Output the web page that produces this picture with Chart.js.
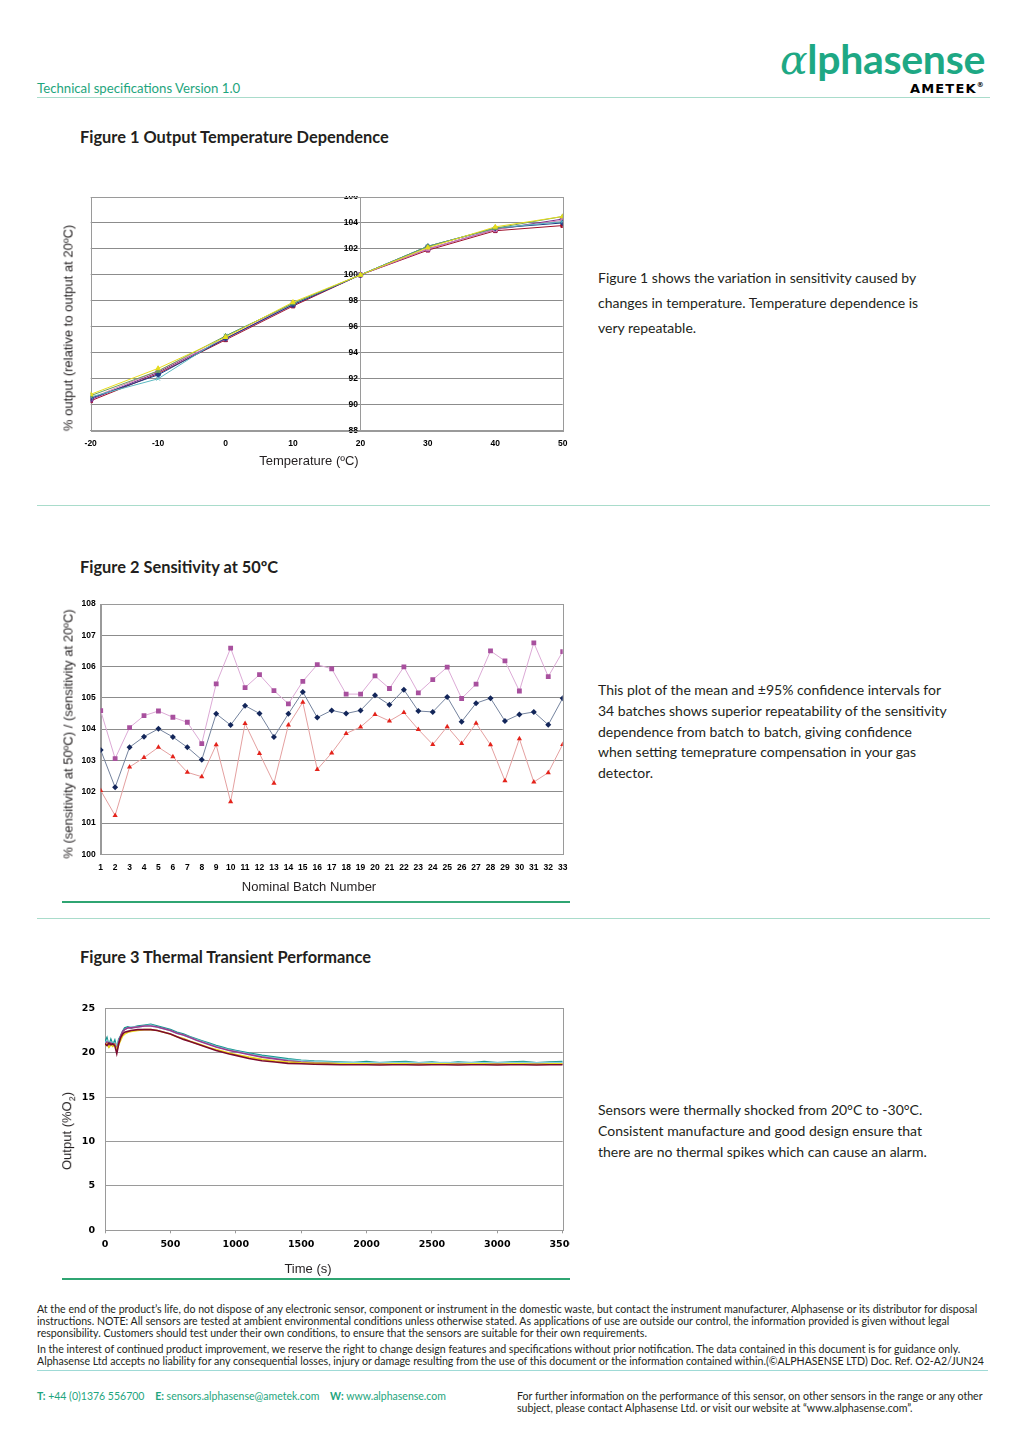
<!DOCTYPE html>
<html>
<head>
<meta charset="utf-8">
<script src="https://cdn.jsdelivr.net/npm/chart.js@4.4.1/dist/chart.umd.min.js"></script>
<style>
  html, body { margin: 0; padding: 0; background: #fff; }
  #page { position: relative; width: 1024px; height: 1448px; overflow: hidden; font-family: Lato, 'Open Sans', sans-serif; color: #231f20; }
  .abs { position: absolute; white-space: nowrap; }
  canvas { position: absolute; }
  .rule { position: absolute; height: 1px; background: #a9dccb; }
  .chartrule { position: absolute; height: 1.5px; background: #2fa572; }
  .figtitle { font-weight: 700; font-size: 16.4px; line-height: 20px; }
  .body { font-size: 14px; }
  .ytitle { position: absolute; font-family: 'Liberation Sans', Arial, sans-serif; font-size: 13px; white-space: nowrap; transform: translate(-50%, -50%) rotate(-90deg); }
  .xtitle { position: absolute; font-family: 'Liberation Sans', Arial, sans-serif; font-size: 13px; white-space: nowrap; transform: translate(-50%, -50%); }
  .foot { font-size: 10.6px; line-height: 12px; }
</style>
</head>
<body>
<div id="page">
  <!-- header -->
  <div class="abs" style="left:37px; top:80px; font-size:13.2px; color:#1ea57d;">Technical specifications Version 1.0</div>
  <div class="abs" style="right:39px; top:35px; font-size:41px; line-height:48px; font-weight:700; color:#1ea884; letter-spacing:-0.3px;"><span style="font-family:'DejaVu Serif', serif; font-style:italic; font-weight:400;">α</span>lphasense</div>
  <div class="abs" style="right:39px; top:81px; font-family:'DejaVu Sans', sans-serif; font-size:13px; font-weight:700; color:#000; letter-spacing:1.2px;">AMETEK<span style="font-size:7px; vertical-align:top;">®</span></div>
  <div class="rule" style="left:37px; top:97px; width:953px;"></div>

  <!-- figure 1 -->
  <div class="abs figtitle" style="left:80px; top:127px;">Figure 1 Output Temperature Dependence</div>
  <div style="position:absolute; left:55px; top:196px; width:520px; height:279px; overflow:hidden;">
    <canvas id="fig1" width="520" height="283" style="left:0; top:-4px;"></canvas>
  </div>
  <div class="ytitle" style="left:68px; top:328px;">% output (relative to output at 20ºC)</div>
  <div class="xtitle" style="left:309px; top:460px;">Temperature (ºC)</div>
  <div class="abs body" style="left:598px; top:265px; line-height:25px;">Figure 1 shows the variation in sensitivity caused by<br>changes in temperature. Temperature dependence is<br>very repeatable.</div>
  <div class="rule" style="left:37px; top:505px; width:953px;"></div>

  <!-- figure 2 -->
  <div class="abs figtitle" style="left:80px; top:557px;">Figure 2 Sensitivity at 50ºC</div>
  <canvas id="fig2" width="520" height="300" style="left:55px; top:595px;"></canvas>
  <div class="ytitle" style="left:68px; top:734px;">% (sensitivity at 50ºC) / (sensitivity at 20ºC)</div>
  <div class="xtitle" style="left:309px; top:886px;">Nominal Batch Number</div>
  <div class="chartrule" style="left:62px; top:901px; width:508px;"></div>
  <div class="abs body" style="left:598px; top:680px; line-height:20.8px;">This plot of the mean and ±95% confidence intervals for<br>34 batches shows superior repeatability of the sensitivity<br>dependence from batch to batch, giving confidence<br>when setting temeprature compensation in your gas<br>detector.</div>
  <div class="rule" style="left:37px; top:918px; width:953px;"></div>

  <!-- figure 3 -->
  <div class="abs figtitle" style="left:80px; top:947px;">Figure 3 Thermal Transient Performance</div>
  <canvas id="fig3" width="515" height="285" style="left:55px; top:995px;"></canvas>
  <div class="ytitle" style="left:68px; top:1131px;">Output (%O<sub style="font-size:9px;">2</sub>)</div>
  <div class="xtitle" style="left:308px; top:1268px;">Time (s)</div>
  <div class="chartrule" style="left:62px; top:1278px; width:508px;"></div>
  <div class="abs body" style="left:598px; top:1099px; line-height:21px;">Sensors were thermally shocked from 20°C to -30°C.<br>Consistent manufacture and good design ensure that<br>there are no thermal spikes which can cause an alarm.</div>

  <!-- footer -->
  <div class="abs foot" style="left:37px; top:1303px;">At the end of the product’s life, do not dispose of any electronic sensor, component or instrument in the domestic waste, but contact the instrument manufacturer, Alphasense or its distributor for disposal<br>instructions. NOTE: All sensors are tested at ambient environmental conditions unless otherwise stated. As applications of use are outside our control, the information provided is given without legal<br>responsibility. Customers should test under their own conditions, to ensure that the sensors are suitable for their own requirements.</div>
  <div class="abs foot" style="left:37px; top:1343px;">In the interest of continued product improvement, we reserve the right to change design features and specifications without prior notification. The data contained in this document is for guidance only.<br>Alphasense Ltd accepts no liability for any consequential losses, injury or damage resulting from the use of this document or the information contained within.(©ALPHASENSE LTD) Doc. Ref. O2-A2/JUN24</div>
  <div class="rule" style="left:37px; top:1370px; width:951px; background:#9fdad6;"></div>
  <div class="abs" style="left:37px; top:1390px; font-size:10.5px; color:#1ea57d;"><b>T:</b> +44 (0)1376 556700 &nbsp;&nbsp; <b>E:</b> sensors.alphasense@ametek.com &nbsp;&nbsp; <b>W:</b> www.alphasense.com</div>
  <div class="abs" style="left:517px; top:1390px; font-size:10.6px; line-height:12px;">For further information on the performance of this sensor, on other sensors in the range or any other<br>subject, please contact Alphasense Ltd. or visit our website at “www.alphasense.com”.</div>
</div>

<script>
// ---- figure 1 : output vs temperature ----
const tempC = [-20, -10, 0, 10, 20, 30, 40, 50];
const tempBlue = [90.5, 92.3, 95.1, 97.7, 100, 102.2, 103.6, 104.0];
const tempPink = [90.5, 92.6, 95.1, 97.8, 100, 102.0, 103.5, 104.2];
const tempYellow = [90.8, 92.8, 95.2, 97.9, 100, 102.1, 103.7, 104.5];
const tempTeal = [90.6, 92.0, 95.3, 97.8, 100, 102.2, 103.6, 104.1];
const tempPurple = [90.4, 92.5, 95.1, 97.7, 100, 102.0, 103.5, 104.3];
const tempRed = [90.3, 92.4, 95.0, 97.6, 100, 101.9, 103.4, 103.8];
const tempGreen = [90.7, 92.6, 95.3, 97.8, 100, 102.2, 103.6, 104.5];
const tempTicksY = [88, 90, 92, 94, 96, 98, 100, 102, 104, 106];

// ---- figure 2 : sensitivity at 50C per batch ----
const batches = [1, 2, 3, 4, 5, 6, 7, 8, 9, 10, 11, 12, 13, 14, 15, 16, 17, 18, 19, 20, 21, 22, 23, 24, 25, 26, 27, 28, 29, 30, 31, 32, 33];
const sensUpper = [104.59, 103.06, 104.05, 104.43, 104.58, 104.38, 104.22, 103.54, 105.45, 106.59, 105.33, 105.74, 105.23, 104.81, 105.53, 106.06, 105.93, 105.12, 105.12, 105.70, 105.30, 105.99, 105.16, 105.58, 105.98, 104.98, 105.44, 106.50, 106.18, 105.22, 106.76, 105.68, 106.48];
const sensMean = [103.33, 102.14, 103.42, 103.76, 104.01, 103.75, 103.42, 103.02, 104.49, 104.13, 104.75, 104.50, 103.75, 104.49, 105.19, 104.37, 104.60, 104.50, 104.60, 105.08, 104.78, 105.26, 104.58, 104.55, 105.03, 104.24, 104.83, 104.99, 104.26, 104.47, 104.55, 104.14, 104.99];
const sensLower = [102.04, 101.24, 102.79, 103.09, 103.42, 103.12, 102.62, 102.48, 103.50, 101.68, 104.18, 103.22, 102.27, 104.13, 104.86, 102.71, 103.24, 103.86, 104.07, 104.47, 104.26, 104.53, 103.99, 103.51, 104.08, 103.54, 104.19, 103.50, 102.35, 103.69, 102.31, 102.61, 103.51];

// ---- figure 3 : thermal transient ----
const timeS = [0, 15, 30, 45, 60, 75, 90, 105, 120, 135, 150, 175, 200,
  250, 300, 350, 400, 450, 500, 550, 600, 650, 700, 750, 800, 850, 900, 950, 1000,
  1100, 1200, 1300, 1400, 1500, 1600, 1700, 1800, 1900, 2000, 2100, 2200, 2300, 2400, 2500, 2600, 2700, 2800, 2900, 3000, 3100, 3200, 3300, 3400, 3500];
const outTeal = [21.2, 21.7, 20.8, 21.5, 20.9, 21.4, 20.5, 21.5, 21.9, 22.4, 22.8, 22.9, 22.8,
  23.0, 23.1, 23.2, 23.0, 22.8, 22.6, 22.3, 22.1, 21.8, 21.55, 21.3, 21.05, 20.8, 20.6, 20.4, 20.25,
  19.95, 19.7, 19.5, 19.3, 19.15, 19.05, 19.0, 18.95, 18.9, 19.0, 18.85, 18.95, 19.0, 18.85, 18.95, 18.8, 18.95, 18.85, 19.0, 18.85, 18.95, 19.0, 18.85, 18.95, 19.0];
const outCyan = [21.0, 21.4, 20.9, 21.2, 21.0, 21.1, 20.7, 21.3, 21.8, 22.3, 22.6, 22.8, 22.9,
  22.9, 23.0, 23.1, 22.9, 22.7, 22.5, 22.2, 22.0, 21.7, 21.45, 21.2, 20.95, 20.7, 20.5, 20.3, 20.15,
  19.85, 19.6, 19.4, 19.2, 19.1, 19.0, 18.95, 18.9, 18.9, 18.85, 18.9, 18.85, 18.9, 18.85, 18.85, 18.9, 18.85, 18.9, 18.85, 18.9, 18.85, 18.9, 18.85, 18.85, 18.9];
const outPurple = [20.9, 21.2, 20.7, 21.1, 20.8, 21.0, 20.4, 21.2, 21.9, 22.4, 22.6, 22.8, 22.8,
  22.9, 23.0, 23.0, 22.9, 22.7, 22.5, 22.2, 22.0, 21.7, 21.4, 21.15, 20.9, 20.65, 20.45, 20.25, 20.1,
  19.8, 19.5, 19.3, 19.1, 18.95, 18.85, 18.8, 18.75, 18.75, 18.72, 18.75, 18.72, 18.72, 18.75, 18.72, 18.72, 18.75, 18.72, 18.72, 18.75, 18.72, 18.72, 18.72, 18.75, 18.72];
const outYellow = [20.8, 21.0, 20.6, 20.9, 20.7, 20.9, 20.3, 20.9, 21.4, 21.9, 22.1, 22.3, 22.4,
  22.5, 22.6, 22.6, 22.5, 22.3, 22.1, 21.8, 21.6, 21.3, 21.05, 20.8, 20.55, 20.35, 20.15, 19.95, 19.8,
  19.5, 19.25, 19.05, 18.95, 18.85, 18.8, 18.8, 18.75, 18.75, 18.75, 18.7, 18.75, 18.75, 18.7, 18.75, 18.75, 18.7, 18.75, 18.75, 18.7, 18.75, 18.75, 18.7, 18.75, 18.75];
const outMaroon = [21.0, 20.8, 21.1, 20.9, 21.0, 20.8, 19.9, 21.0, 21.7, 22.1, 22.3, 22.4, 22.5,
  22.6, 22.6, 22.6, 22.5, 22.3, 22.1, 21.8, 21.5, 21.25, 21.0, 20.75, 20.5, 20.25, 20.05, 19.85, 19.7,
  19.35, 19.1, 18.95, 18.8, 18.75, 18.7, 18.68, 18.65, 18.65, 18.65, 18.62, 18.65, 18.65, 18.62, 18.65, 18.65, 18.62, 18.65, 18.65, 18.62, 18.65, 18.65, 18.62, 18.65, 18.65];


const toPoints = (xs, ys) => xs.map((x, i) => ({x: x, y: ys[i]}));
const tickFont = {family: "'Liberation Sans', Arial, sans-serif", size: 8.5, weight: 'bold'};

// grey box round the plot area
const frame = {
  id: 'frame',
  beforeDatasetsDraw(chart) {
    const a = chart.chartArea;
    const ctx = chart.ctx;
    ctx.save();
    ctx.strokeStyle = '#9a9a9a';
    ctx.lineWidth = 1;
    ctx.strokeRect(Math.round(a.left) + 0.5, Math.round(a.top) + 0.5, Math.round(a.width), Math.round(a.height));
    ctx.restore();
  }
};

function lineSet(label, ys, xs, color, style) {
  return {
    label: label,
    data: toPoints(xs, ys),
    borderColor: color,
    backgroundColor: color,
    pointBackgroundColor: color,
    pointBorderColor: color,
    borderWidth: 1,
    pointStyle: style,
    pointRadius: 2.6,
    pointBorderWidth: 1,
    tension: 0
  };
}

// figure 1
new Chart(document.getElementById('fig1'), {
  type: 'line',
  data: {
    datasets: [
      lineSet('A', tempYellow, tempC, '#e6dc1e', 'triangle'),
      lineSet('B', tempGreen, tempC, '#6c9c5c', 'triangle'),
      lineSet('C', tempTeal, tempC, '#5ab8c0', 'crossRot'),
      lineSet('D', tempBlue, tempC, '#1f3c88', 'rectRot'),
      lineSet('E', tempPink, tempC, '#d27fb4', 'rect'),
      lineSet('F', tempPurple, tempC, '#7a2a8a', 'circle'),
      lineSet('G', tempRed, tempC, '#a0102a', 'rect')
    ]
  },
  options: {
    responsive: false,
    animation: false,
    layout: {padding: {left: 35.7, right: 12.3, top: 1.3, bottom: 0}},
    plugins: {legend: {display: false}, tooltip: {enabled: false}},
    scales: {
      x: {
        type: 'linear', min: -20, max: 50,
        ticks: {stepSize: 10, font: tickFont, color: '#000', padding: 8, maxRotation: 0},
        grid: {display: false, drawTicks: false},
        border: {color: '#9a9a9a'},
        afterFit: s => { s.height = 44.3; s.paddingLeft = 0; s.paddingRight = 0; }
      },
      y: {
        type: 'linear', min: 88, max: 106,
        position: {x: 20},
        afterBuildTicks: s => { s.ticks = tempTicksY.map(v => ({value: v})); },
        ticks: {font: tickFont, color: '#000', callback: v => v + ' '},
        grid: {color: '#8c8c8c', drawTicks: false},
        border: {color: '#9a9a9a'},
        afterFit: s => { s.paddingTop = 0; s.paddingBottom = 0; }
      }
    }
  },
  plugins: [frame]
});

// figure 2
new Chart(document.getElementById('fig2'), {
  type: 'line',
  data: {
    datasets: [
      {label: 'Upper 95%', data: toPoints(batches, sensUpper), borderColor: '#dcaad6', borderWidth: 1,
        pointStyle: 'rect', pointRadius: 3.4, pointBackgroundColor: '#a8509e', pointBorderColor: '#a8509e', pointBorderWidth: 0},
      {label: 'Mean', data: toPoints(batches, sensMean), borderColor: '#74839e', borderWidth: 1,
        pointStyle: 'rectRot', pointRadius: 3, pointBackgroundColor: '#13265a', pointBorderColor: '#13265a', pointBorderWidth: 0},
      {label: 'Lower 95%', data: toPoints(batches, sensLower), borderColor: '#e4a0a0', borderWidth: 1,
        pointStyle: 'triangle', pointRadius: 3, pointBackgroundColor: '#e4231b', pointBorderColor: '#e4231b', pointBorderWidth: 0}
    ]
  },
  options: {
    responsive: false,
    animation: false,
    layout: {padding: {left: 0, right: 12.3, top: 9, bottom: 0}},
    plugins: {legend: {display: false}, tooltip: {enabled: false}},
    scales: {
      x: {
        type: 'linear', min: 1, max: 33,
        ticks: {stepSize: 1, autoSkip: false, maxRotation: 0, font: tickFont, color: '#000', padding: 8},
        grid: {display: false, drawTicks: false},
        border: {color: '#9a9a9a'},
        afterFit: s => { s.height = 40.7; s.paddingLeft = 0; s.paddingRight = 0; }
      },
      y: {
        type: 'linear', min: 100, max: 108,
        ticks: {stepSize: 1, font: tickFont, color: '#000', padding: 5},
        grid: {color: '#8c8c8c', drawTicks: false},
        border: {color: '#9a9a9a'},
        afterFit: s => { s.width = 45.7; s.paddingTop = 0; s.paddingBottom = 0; }
      }
    }
  },
  plugins: [frame]
});

// figure 3
const bigTick = {family: "'DejaVu Sans', sans-serif", size: 9.5, weight: 'bold'};
function traceSet(label, ys, color) {
  return {label: label, data: toPoints(timeS, ys), borderColor: color, borderWidth: 1.6, pointRadius: 0, tension: 0};
}
new Chart(document.getElementById('fig3'), {
  type: 'line',
  data: {
    datasets: [
      traceSet('Sensor 5', outMaroon, '#7c0a2e'),
      traceSet('Sensor 4', outYellow, '#ecd81a'),
      traceSet('Sensor 3', outPurple, '#9a3c8e'),
      traceSet('Sensor 2', outCyan, '#86d2dc'),
      traceSet('Sensor 1', outTeal, '#16948e')
    ]
  },
  options: {
    responsive: false,
    animation: false,
    layout: {padding: {left: 0, right: 7.3, top: 13.3, bottom: 0}},
    plugins: {legend: {display: false}, tooltip: {enabled: false}},
    scales: {
      x: {
        type: 'linear', min: 0, max: 3500,
        ticks: {stepSize: 500, maxRotation: 0, font: bigTick, color: '#000', padding: 6, callback: v => String(v)},
        grid: {drawOnChartArea: false, drawTicks: true, tickLength: 3, color: '#9a9a9a'},
        border: {color: '#9a9a9a'},
        afterFit: s => { s.height = 49.7; s.paddingLeft = 0; s.paddingRight = 0; }
      },
      y: {
        type: 'linear', min: 0, max: 25,
        ticks: {stepSize: 5, font: bigTick, color: '#000', padding: 10},
        grid: {color: '#9a9a9a', drawTicks: false},
        border: {color: '#9a9a9a'},
        afterFit: s => { s.width = 50; s.paddingTop = 0; s.paddingBottom = 0; }
      }
    }
  },
  plugins: [frame]
});
</script>
</body>
</html>
